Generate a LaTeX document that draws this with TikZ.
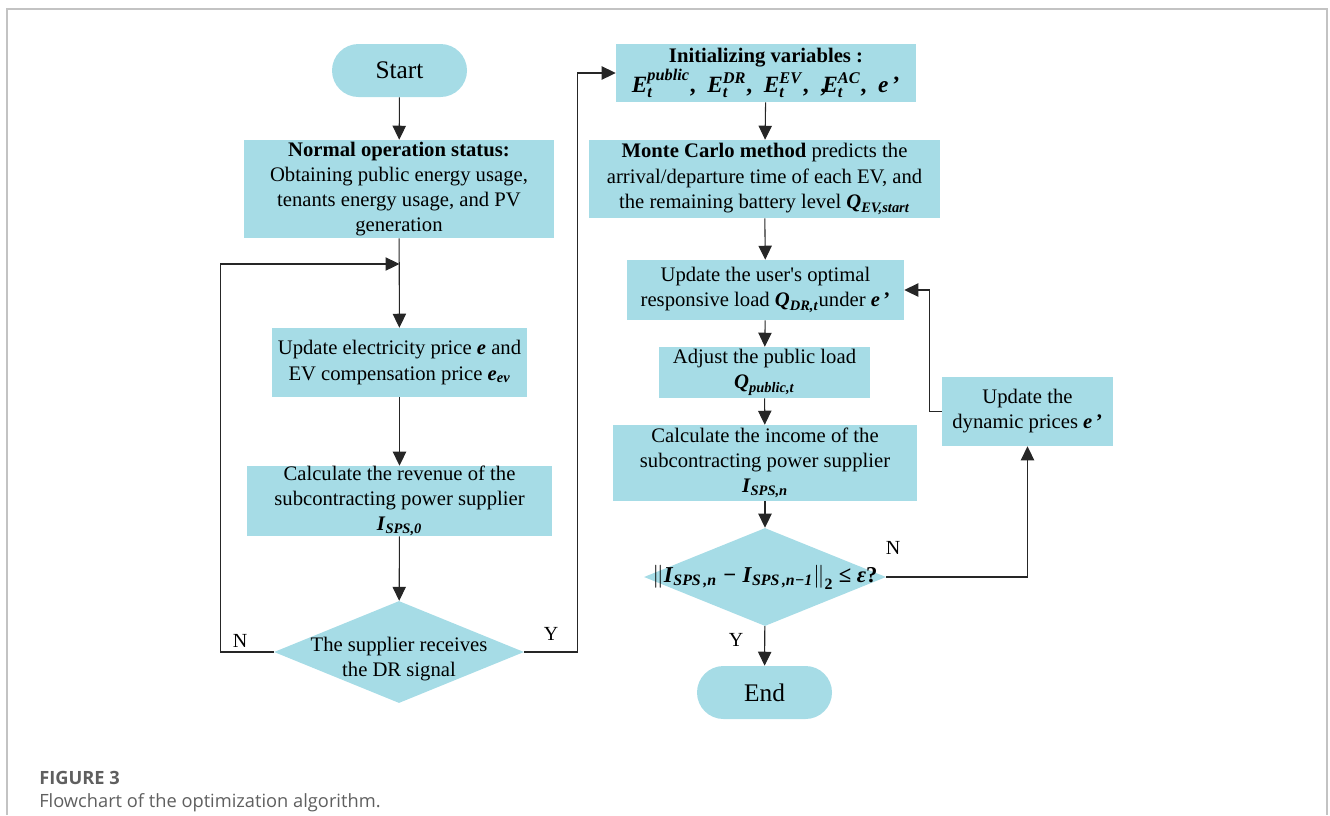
\documentclass[tikz,border=0pt]{standalone}
\usepackage{amsmath}
\usepackage{fontspec}
\setmainfont{Liberation Serif}
\newfontfamily\capfont{Open Sans}
\usetikzlibrary{arrows.meta,shapes.geometric,shapes.misc,calc}
\definecolor{boxblue}{RGB}{166,220,230}
\definecolor{capgray}{RGB}{95,95,95}
\definecolor{framegray}{RGB}{195,195,195}
\newcommand\bi[1]{\textbf{\textit{#1}}}
\begin{document}
\begin{tikzpicture}[x=0.75pt,y=-0.75pt,
  every node/.style={font=\fontsize{15.5}{18.8}\selectfont},
  box/.style={rectangle, fill=boxblue, align=center, inner sep=0pt},
  term/.style={rounded rectangle, fill=boxblue, inner sep=0pt, minimum width=101.25pt, minimum height=39.75pt, font=\fontsize{19}{22}\selectfont},
  dia/.style={diamond, fill=boxblue, inner sep=0pt},
  dtext/.style={align=center, inner sep=0pt},
  arr/.style={-{Triangle[length=10.5pt,width=10pt]}, line width=0.8pt, draw=black!85},
  ln/.style={line width=0.8pt, draw=black!85},
  lab/.style={font=\fontsize{15}{18}\selectfont, inner sep=0pt}
]
\useasboundingbox (0,0) rectangle (1330,815);
\draw[framegray, line width=1.1pt] (7,815) -- (7,9) -- (1327,9) -- (1327,815);

% left column
\node[term] (start) at (399.5,70.5) {Start};
\node[box, minimum width=232.5pt, minimum height=73.5pt] (normal) at (399,189)
  {\textbf{Normal operation status:}\\Obtaining public energy usage,\\tenants energy usage, and PV\\generation};
\node[box, minimum width=191.25pt, minimum height=51.75pt] (upd) at (399.5,362.5)
  {Update electricity price \bi{e} and\\EV compensation price $\bi{e}_{\bi{ev}}$};
\node[box, minimum width=228.75pt, minimum height=52.5pt] (rev) at (399.5,501)
  {Calculate the revenue of the\\subcontracting power supplier\\$\bi{I}_{\bi{SPS,0}}$};
\node[dia, minimum width=187.5pt, minimum height=76.5pt] (dia1) at (399,652) {};
\node[dtext] (dia1t) at (399,659) {The supplier receives\\the DR signal};
\coordinate (m1) at (399.5,264);

% right column
\node[box, minimum width=225pt, minimum height=43.5pt] (init) at (766,73)
  {\textbf{Initializing variables :}\\[1pt]
   {\fontsize{17.5}{19}\selectfont $\bi{E}_{\bi{t}}^{\bi{public}}$\textbf{,}\ \ $\bi{E}_{\bi{t}}^{\bi{DR}}$\textbf{,}\ \ $\bi{E}_{\bi{t}}^{\bi{EV}}$\textbf{,}\ \ \textbf{,}$\!\bi{E}_{\bi{t}}^{\bi{AC}}$\textbf{,}\ \ \bi{e}\,\textbf{’}}};
\node[box, minimum width=263.25pt, minimum height=58.5pt] (mc) at (764.5,179)
  {\textbf{Monte Carlo method} predicts the\\arrival/departure time of each EV, and\\the remaining battery level $\bi{Q}_{\bi{EV,start}}$};
\node[box, minimum width=207.75pt, minimum height=45pt] (user) at (765.5,290)
  {Update the user\textquotesingle s optimal\\responsive load $\bi{Q}_{\bi{DR,t}}$under \bi{e}\,\textbf{’}};
\node[box, minimum width=158.25pt, minimum height=38.25pt] (adj) at (764.5,372.5)
  {Adjust the public load\\$\bi{Q}_{\bi{public,t}}$};
\node[box, minimum width=228pt, minimum height=57pt] (inc) at (765,463)
  {Calculate the income of the\\subcontracting power supplier\\$\bi{I}_{\bi{SPS,n}}$};
\node[dia, minimum width=181.5pt, minimum height=73.5pt] (dia2) at (765,577) {};
\node[dtext, font=\fontsize{17}{20}\selectfont] (dia2t) at (765,577)
  {$\left\|\bi{I}_{\bi{SPS\,,n}}\;\textbf{−}\;\bi{I}_{\bi{SPS\,,n−1}}\right\|_{\textbf{2}}$ \textbf{≤} \bi{ε}\textbf{?}};
\node[term] (end) at (764.5,692.5) {End};
\node[box, minimum width=128.25pt, minimum height=51.75pt] (dyn) at (1027.5,411.5)
  {Update the\\dynamic prices \bi{e}\,\textbf{’}};

% connectors left
\draw[arr] (start) -- (normal);
\draw[arr] (normal) -- (upd);
\draw[arr] (upd) -- (rev);
\draw[arr] (rev) -- (dia1);
\draw[arr] (dia1.west) -- ++(-53,0) |- (m1);
\draw[arr] (dia1.east) -- ++(53,0) |- (init.west);

% connectors right
\draw[arr] (init) -- (mc);
\draw[arr] (mc) -- (user);
\draw[arr] (user) -- (adj);
\draw[arr] (adj) -- (inc);
\draw[arr] (inc) -- (dia2);
\draw[arr] (dia2) -- (end);
\draw[arr] (dia2.east) -| (dyn.south);
\draw[arr] (dyn.west) -- ++(-12,0) |- (user.east);

% labels
\node[lab] (n1) at (240,641) {N};
\node[lab] (y1) at (551,634) {Y};
\node[lab] (n2) at (893,548) {N};
\node[lab] (y2) at (736,640) {Y};

% caption
\node[anchor=west, inner sep=0pt, font=\capfont\bfseries\fontsize{13.7}{16}\selectfont, text=capgray] (cap1) at (39,778) {FIGURE 3};
\node[anchor=west, inner sep=0pt, font=\capfont\fontsize{13.7}{16}\selectfont, text=capgray] (cap2) at (39,803) {Flowchart of the optimization algorithm.};
\end{tikzpicture}
\end{document}
